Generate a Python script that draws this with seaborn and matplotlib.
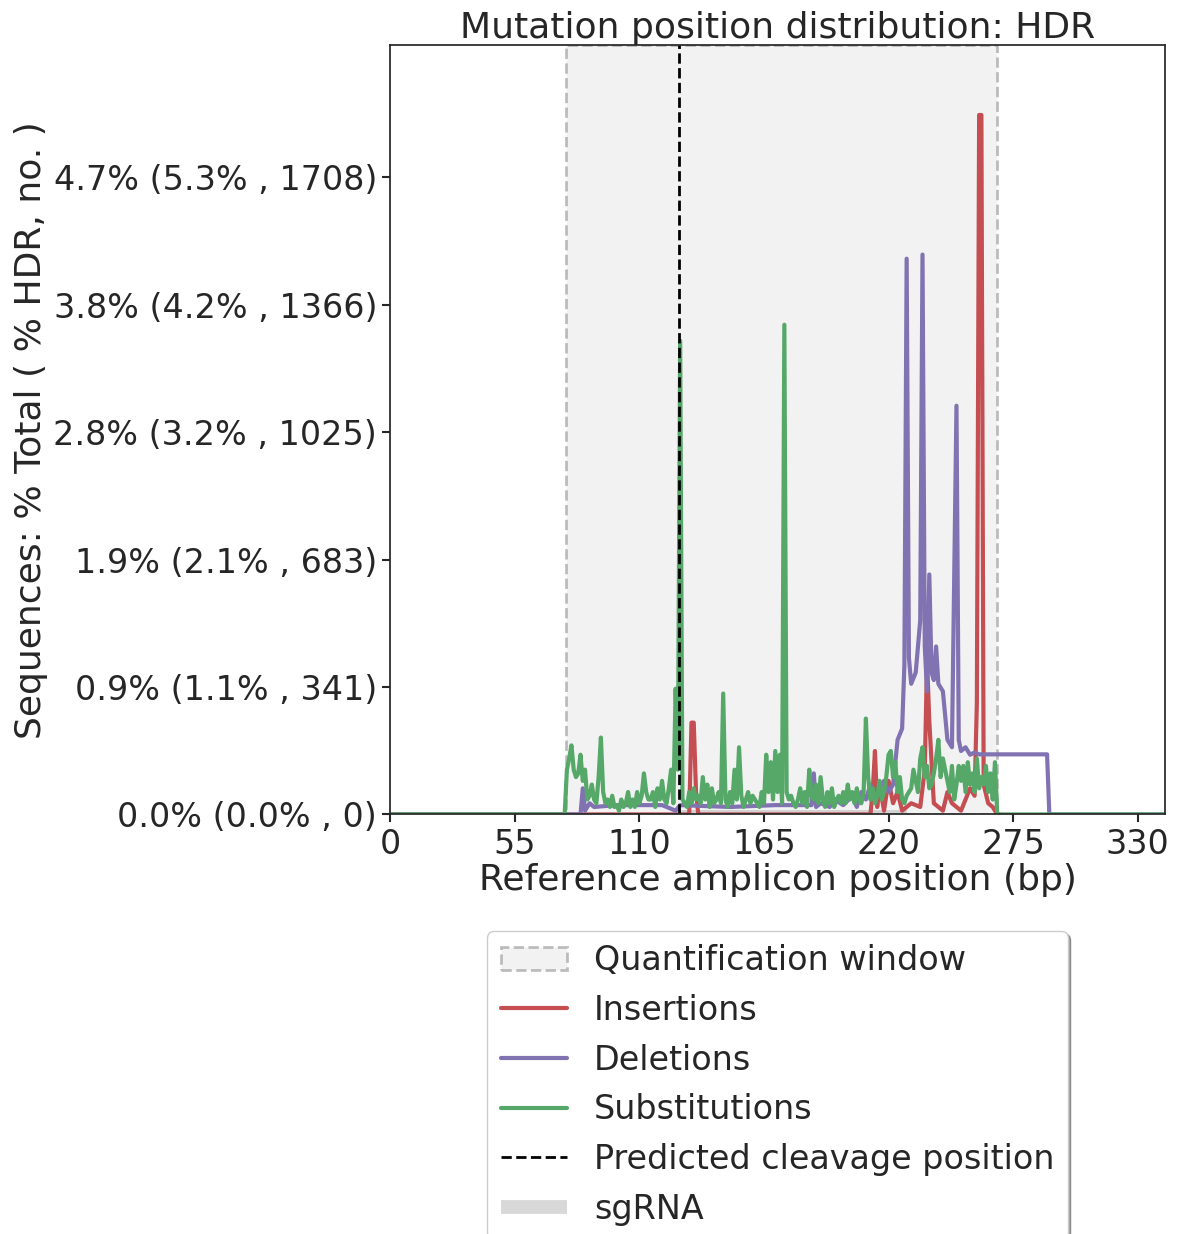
import numpy as np
import pandas as pd
import matplotlib
matplotlib.use("Agg")
import matplotlib.pyplot as plt
import matplotlib.patches as mpatches
from matplotlib.lines import Line2D
import seaborn as sns

sns.set_theme(style="ticks")
plt.rcParams["font.family"] = ["DejaVu Sans"]

amplicon_len = 342
quant_window = (77.7, 267.7)
cut_pos = 127.6
sgrna = (128, 228)

ins_pos = [0, 132, 133, 134, 135, 136, 137, 212, 213, 214, 215, 216, 218, 220, 222, 224, 226, 230, 234, 236, 237, 238, 240,
           244, 246, 248, 250, 252, 254, 256, 258, 259, 260, 261, 262, 264, 266, 268, 269]
ins_val = [0, 0, 246, 246, 60, 0, 0, 0, 60, 170, 20, 80, 10, 90, 30, 60, 10, 30, 20, 120, 412, 250, 30,
           10, 60, 30, 20, 10, 40, 70, 50, 300, 1874, 1874, 80, 30, 20, 0, 0]

del_pos = [0, 84, 85, 86, 88, 90, 100, 120, 126, 128, 150, 170, 186, 187, 188, 190, 194, 196, 200, 204, 206, 208, 210,
           212, 214, 216, 218, 220, 222, 224, 226, 227, 228, 229, 230, 232, 234, 235, 236, 237, 238, 239, 240, 241,
           242, 244, 246, 248, 250, 251, 252, 254, 256, 258, 260, 290, 291, 342]
del_val = [0, 0, 70, 10, 30, 20, 25, 25, 10, 25, 20, 25, 25, 110, 20, 30, 20, 40, 25, 50, 20, 60, 40,
           80, 40, 70, 90, 60, 80, 200, 230, 400, 1489, 420, 350, 380, 520, 1500, 450, 330, 643, 380, 360, 450,
           350, 330, 200, 180, 1095, 200, 170, 180, 160, 166, 161, 161, 0, 0]

sub_pos = list(range(77, 269))
sub_val = [0, 120, 150, 185, 120, 100, 110, 160, 90, 120, 40, 50, 80, 40, 30, 100, 206, 60, 30, 40,
           20, 50, 20, 25, 10, 40, 20, 30, 60, 20, 40, 20, 60, 30, 50, 110, 60, 40, 40, 60,
           20, 70, 40, 90, 40, 30, 70, 120, 30, 337, 120, 1269, 40, 30, 20, 60, 30, 70, 40, 50,
           30, 100, 40, 80, 20, 70, 30, 40, 60, 30, 324, 40, 20, 60, 30, 120, 40, 180, 50, 20,
           40, 60, 30, 50, 40, 30, 20, 60, 30, 160, 60, 140, 40, 170, 60, 160, 30, 1312, 60, 40,
           50, 30, 20, 40, 70, 30, 60, 20, 120, 50, 40, 80, 30, 100, 40, 20, 60, 30, 70, 20,
           40, 50, 30, 60, 30, 80, 40, 60, 30, 70, 40, 30, 60, 257, 100, 40, 70, 30, 50, 90,
           40, 60, 100, 160, 170, 100, 140, 60, 100, 40, 30, 50, 60, 70, 120, 90, 60, 150, 180, 100,
           130, 70, 80, 110, 150, 200, 100, 150, 120, 90, 60, 130, 40, 80, 130, 90, 130, 60, 140, 80,
           110, 60, 150, 70, 100, 80, 130, 60, 110, 40, 140, 0]

y_ticks = [0, 341, 683, 1025, 1366, 1708]
y_labels = ["0.0% (0.0% , 0)", "0.9% (1.1% , 341)", "1.9% (2.1% , 683)",
            "2.8% (3.2% , 1025)", "3.8% (4.2% , 1366)", "4.7% (5.3% , 1708)"]
x_ticks = [0, 55, 110, 165, 220, 275, 330]

c_ins, c_del, c_sub = "#C44E52", "#8172B2", "#55A868"

fig = plt.figure(figsize=(11.79, 12.34), dpi=100)
ax = fig.add_axes([0.331, 0.340, 0.657, 0.6235])

ymax = max(ins_val) * 1.1
ax.add_patch(mpatches.Rectangle((quant_window[0], 0), quant_window[1] - quant_window[0], ymax,
                                facecolor=(0.5, 0.5, 0.5, 0.1), edgecolor=(0.5, 0.5, 0.5, 0.5),
                                linestyle="--", linewidth=2, zorder=0))
ax.add_patch(mpatches.Rectangle((sgrna[0], 0), sgrna[1] - sgrna[0], 12,
                                facecolor=(0.7, 0.7, 0.7, 0.5), edgecolor="none", zorder=1))

sns.lineplot(x=ins_pos, y=ins_val, color=c_ins, lw=3, ax=ax)
sns.lineplot(x=del_pos, y=del_val, color=c_del, lw=3, ax=ax)
sns.lineplot(x=[0] + sub_pos + [342], y=[0] + sub_val + [0], color=c_sub, lw=3, ax=ax)
ax.axvline(cut_pos, color="black", linestyle="--", lw=2)

ax.set_xlim(0, amplicon_len)
ax.set_ylim(0, ymax)
ax.set_xticks(x_ticks)
ax.set_yticks(y_ticks)
ax.set_yticklabels(y_labels)
ax.tick_params(labelsize=24, width=1.5, length=6)
ax.set_xlabel("Reference amplicon position (bp)", fontsize=26, labelpad=2)
ax.set_ylabel("Sequences: % Total ( % HDR, no. )", fontsize=26)
ax.set_title("Mutation position distribution: HDR", fontsize=26, pad=2)

handles = [mpatches.Patch(facecolor=(0.5, 0.5, 0.5, 0.1), edgecolor=(0.5, 0.5, 0.5, 0.5), linestyle="--", linewidth=2),
           Line2D([], [], color=c_ins, lw=3), Line2D([], [], color=c_del, lw=3),
           Line2D([], [], color=c_sub, lw=3), Line2D([], [], color="black", ls="--", lw=2),
           Line2D([], [], color=(0.7, 0.7, 0.7, 0.5), lw=10, solid_capstyle="butt")]
labels = ["Quantification window", "Insertions", "Deletions", "Substitutions",
          "Predicted cleavage position", "sgRNA"]
ax.legend(handles, labels, loc="upper center", bbox_to_anchor=(0.5, -0.13), fontsize=24,
          frameon=True, fancybox=True, shadow=True, framealpha=1, handlelength=2.0)

fig.savefig("out.png", dpi=100)
